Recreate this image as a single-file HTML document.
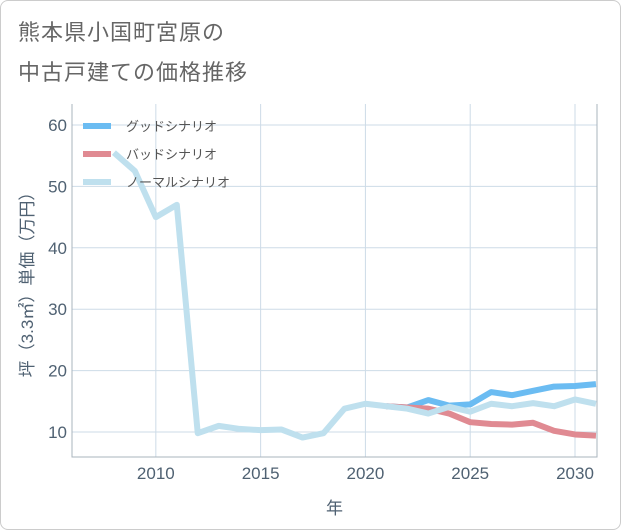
<!DOCTYPE html>
<html><head><meta charset="utf-8"><style>
body{margin:0;background:#fff;}
#wrap{position:relative;width:619px;height:528px;border:1px solid #ccc;border-radius:8px;background:#fff;overflow:hidden;font-family:"Liberation Sans","Noto Sans CJK JP",sans-serif;}
.title{position:absolute;left:17px;font-size:22px;color:#666;letter-spacing:1px;}
</style></head><body>
<div id="wrap">
<div class="title" style="top:14px">熊本県小国町宮原の</div>
<div class="title" style="top:54px">中古戸建ての価格推移</div>
<svg id="chart" width="621" height="530" style="position:absolute;left:-1px;top:-1px"></svg>
</div>
<script>
const years=[2008,2009,2010,2011,2012,2013,2014,2015,2016,2017,2018,2019,2020,2021,2022,2023,2024,2025,2026,2027,2028,2029,2030,2031];
const normal=[55.5,52.5,45,47,9.8,11,10.5,10.3,10.4,9.1,9.8,13.8,14.6,14.2,13.8,13.0,14.1,13.3,14.6,14.2,14.7,14.2,15.3,14.6];
const goodYears=[2021,2022,2023,2024,2025,2026,2027,2028,2029,2030,2031];
const good=[14.2,14.0,15.2,14.3,14.5,16.5,16.0,16.7,17.4,17.5,17.8];
const bad=[14.2,14.0,13.8,13.0,11.6,11.3,11.2,11.5,10.2,9.6,9.4];
const xTicks=[2010,2015,2020,2025,2030];
const yTicks=[10,20,30,40,50,60];
const L=72,R=597,T=104,B=457;
const x=v=>L+(v-2006)*(R-L)/(2031.05-2006);
const y=v=>432-(v-10)*30.7/5;
const svg=document.getElementById('chart');
const NS='http://www.w3.org/2000/svg';
const TC='#4f6172';
function mk(t,a){const e=document.createElementNS(NS,t);for(const k in a)e.setAttribute(k,a[k]);svg.appendChild(e);return e;}
xTicks.forEach(t=>{const l=mk('line',{x1:x(t),x2:x(t),y1:T,y2:B,stroke:'#cddbe7','stroke-width':1});


const tx=mk('text',{x:x(t),y:B+22,'text-anchor':'middle','font-size':17,fill:TC,'font-family':'Liberation Sans'});tx.textContent=t;

});
yTicks.forEach(t=>{const l=mk('line',{x1:L,x2:R,y1:y(t),y2:y(t),stroke:'#cddbe7','stroke-width':1});


const tx=mk('text',{x:L-5,y:y(t)+6,'text-anchor':'end','font-size':17,fill:TC,'font-family':'Liberation Sans'});tx.textContent=t;

});
const ax=mk('path',{d:`M${L} ${T}V${B}H${R}V${T}`,fill:'none',stroke:'#aab4bd','stroke-width':1});


function line(xs,vs,c,n){const p=mk('polyline',{points:xs.map((v,i)=>x(v)+','+y(vs[i])).join(' '),fill:'none',stroke:c,'stroke-width':6,'stroke-linejoin':'round'});

}
line(goodYears,good,'#6bbcf2','good-scenario-line');
line(goodYears,bad,'#e08a92','bad-scenario-line');
line(years,normal,'#bfe0ee','normal-scenario-line');
const leg=[['グッドシナリオ','#6bbcf2'],['バッドシナリオ','#e08a92'],['ノーマルシナリオ','#bfe0ee']];
leg.forEach((d,i)=>{const yy=126+i*28;
const l=mk('line',{x1:83,x2:111,y1:yy,y2:yy,stroke:d[1],'stroke-width':6});


const t=mk('text',{x:126,y:yy+5,'font-size':13,fill:'#555','font-family':'Liberation Sans, Noto Sans CJK JP, sans-serif'});t.textContent=d[0];

});
const xt=mk('text',{x:(L+R)/2,y:514,'text-anchor':'middle','font-size':17,fill:TC,'font-family':'Liberation Sans, Noto Sans CJK JP, sans-serif'});xt.textContent='年';


const yt=mk('text',{x:0,y:0,'text-anchor':'middle','font-size':17,fill:TC,transform:`translate(33,${(T+B)/2}) rotate(-90)`,'font-family':'Liberation Sans, Noto Sans CJK JP, sans-serif'});yt.textContent='坪（3.3㎡）単価（万円）';


</script>
</body></html>
